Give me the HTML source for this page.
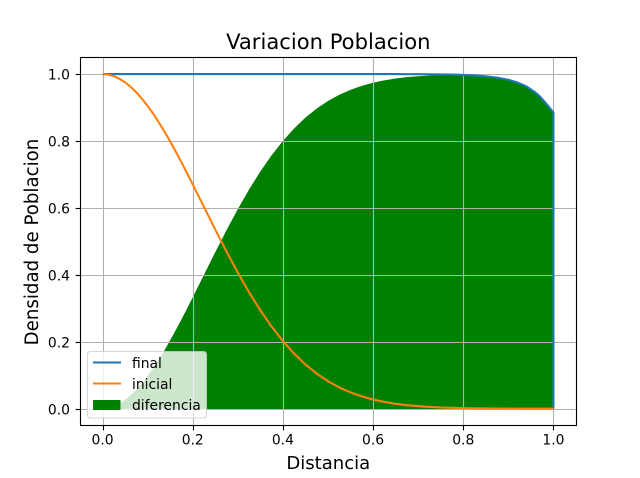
<!DOCTYPE html>
<html>
<head>
<meta charset="utf-8">
<style>
html,body{margin:0;padding:0;background:#fff;width:640px;height:478px;overflow:hidden}
svg{display:block}
text{font-family:"DejaVu Sans","Liberation Sans",sans-serif;fill:#000}
</style>
</head>
<body>
<svg id="chart" width="640" height="478" viewBox="0 0 640 478" xmlns="http://www.w3.org/2000/svg"></svg>
<script>
const distances = [0,0.0125,0.025,0.0375,0.05,0.0625,0.075,0.0875,0.1,0.1125,0.125,0.1375,0.15,0.1625,0.175,0.1875,0.2,0.225,0.25,0.275,0.3,0.325,0.35,0.375,0.4,0.425,0.45,0.475,0.5,0.525,0.55,0.575,0.6,0.625,0.65,0.675,0.7,0.725,0.75,0.775,0.8,0.825,0.85,0.875,0.9,0.92,0.94,0.96,0.97,0.98,0.99,1,1];
const finalValues = [1,1,1,1,1,1,1,1,1,1,1,1,1,1,1,1,1,1,1,1,1,1,1,1,1,1,1,1,1,1,1,1,1,1,1,0.9998,0.9996,0.9994,0.9990,0.9985,0.9975,0.9960,0.9935,0.9895,0.983,0.975,0.963,0.945,0.933,0.918,0.902,0.885,0];
const initialValues = [1,0.9984,0.9938,0.9860,0.9753,0.9617,0.9453,0.9263,0.9048,0.8812,0.8553,0.8278,0.7985,0.7679,0.7363,0.7037,0.6703,0.6028,0.5353,0.4695,0.4066,0.3476,0.2938,0.2451,0.2019,0.1644,0.1320,0.1048,0.0821,0.0635,0.0486,0.0367,0.0273,0.0201,0.0146,0.0105,0.0074,0.0052,0.0036,0.0025,0.0017,0.0011,0.0007,0.0005,0.0003,0.0002,0.0001,0.0001,0.0001,0,0,0,0];
const xTicks = ["0.0","0.2","0.4","0.6","0.8","1.0"];
const yTicks = ["0.0","0.2","0.4","0.6","0.8","1.0"];
const legendLabels = ["final","inicial","diferencia"];

const NS = "http://www.w3.org/2000/svg";
const svg = document.getElementById("chart");
const box = {l:80.5, r:576.5, t:57.5, b:425.5};
const xScale = v => 102.545 + v * 450.91;
const yScale = v => 408.69 - v * 334.6;
const snap = p => Math.floor(p + 0.5) + 0.5;

function add(tag, attrs, parent){
  const el = document.createElementNS(NS, tag);
  for (const k in attrs) el.setAttribute(k, attrs[k]);
  (parent || svg).appendChild(el);
  return el;
}
function linePath(vals){
  return distances.map((d,i)=>(i?"L":"M")+xScale(d).toFixed(2)+" "+yScale(vals[i]).toFixed(2)).join(" ");
}

const differenceValues = finalValues.map((v,i)=>v-initialValues[i]);

const fill = add("path",{d:linePath(differenceValues)+" L"+xScale(1)+" "+yScale(0)+" L"+xScale(0)+" "+yScale(0)+" Z",fill:"#008000",stroke:"#008000","stroke-width":1});



xTicks.forEach(t=>{
  const x = snap(xScale(+t));
  const g = add("line",{x1:x,x2:x,y1:box.t,y2:box.b,stroke:"#b0b0b0","stroke-width":1.1});
  
  
  const m = add("line",{x1:x,x2:x,y1:box.b,y2:box.b+4.9,stroke:"#000","stroke-width":1.1});
  
  
  const l = add("text",{x:xScale(+t),y:444.5,"font-size":13.89,"text-anchor":"middle"});
  l.textContent = t;
  
  
});
yTicks.forEach(t=>{
  const y = snap(yScale(+t));
  const g = add("line",{x1:box.l,x2:box.r,y1:y,y2:y,stroke:"#b0b0b0","stroke-width":1.1});
  
  
  const m = add("line",{x1:box.l-4.9,x2:box.l,y1:y,y2:y,stroke:"#000","stroke-width":1.1});
  
  
  const l = add("text",{x:70,y:y+5,"font-size":13.89,"text-anchor":"end"});
  l.textContent = t;
  
  
});

const finalLine = add("path",{d:linePath(finalValues),fill:"none",stroke:"#1f77b4","stroke-width":2.08});


const initialLine = add("path",{d:linePath(initialValues),fill:"none",stroke:"#ff7f0e","stroke-width":2.08});



const frame = add("rect",{x:box.l,y:box.t,width:box.r-box.l,height:box.b-box.t,fill:"none",stroke:"#000","stroke-width":1.1});



const legend = add("g",{});


const lbox = add("rect",{x:87.5,y:351.5,width:119,height:66.5,rx:2.8,ry:2.8,fill:"#fff","fill-opacity":0.8,stroke:"#ccc","stroke-opacity":0.8,"stroke-width":1.1},legend);


const e0 = add("line",{x1:93,x2:121,y1:362.5,y2:362.5,stroke:"#1f77b4","stroke-width":2.08},legend);


const e1 = add("line",{x1:93,x2:121,y1:383.5,y2:383.5,stroke:"#ff7f0e","stroke-width":2.08},legend);


const e2 = add("rect",{x:93,y:400,width:27.5,height:10,fill:"#008000"},legend);


legendLabels.forEach((t,i)=>{
  const l = add("text",{x:132,y:368+i*21,"font-size":13.89},legend);
  l.textContent = t;
  
  
});

const title = add("text",{x:328.3,y:49,"font-size":21.1,"text-anchor":"middle"});
title.textContent = "Variacion Poblacion";


const xTitle = add("text",{x:328.3,y:469,"font-size":18.06,"text-anchor":"middle"});
xTitle.textContent = "Distancia";


const yTitle = add("text",{x:0,y:0,"font-size":18.2,"text-anchor":"middle",transform:"translate(38,242) rotate(-90)"});
yTitle.textContent = "Densidad de Poblacion";


</script>
</body>
</html>
